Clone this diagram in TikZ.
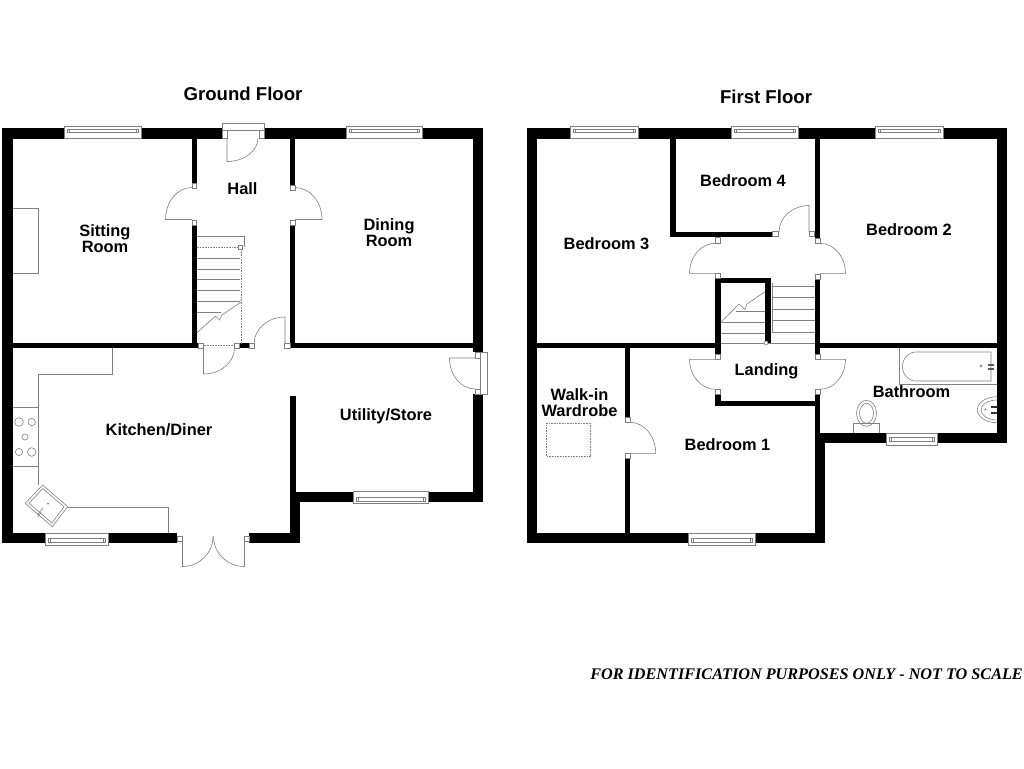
\documentclass[tikz,border=0pt]{standalone}
\usepackage{fontspec}
\setmainfont{Liberation Sans}
\newfontfamily\notefont{Liberation Serif}
\usetikzlibrary{calc}
\tikzset{
	wall/.style={fill=black, draw=none},
	fixline/.style={draw=black!50, line width=0.6pt},
	jamb/.style={draw=black!50, line width=0.6pt, fill=white},
	roomlabel/.style={font=\bfseries\fontsize{16.4}{16}\selectfont, align=center, inner sep=0pt},
	floorlabel/.style={font=\bfseries\fontsize{18.6}{18}\selectfont, inner sep=0pt}
}
% leaf and swing of a door: hinge, start angle, end angle, radii
\def\doorswing(#1)(#2:#3:#4:#5){\draw[fixline] (#1) -- ++(#2:#4 and #5) arc[start angle=#2, end angle=#3, x radius=#4, y radius=#5];}
% window in a wall: left, right, top, bottom, first and second glass line
\def\wallwindow(#1,#2)(#3,#4)(#5,#6){
	\draw[jamb] (#1,#3) rectangle (#2,#4);
	\draw[fixline] ($(#1,#5)+(3,0)$) rectangle ($(#2,#6)+(-3,0)$);
	\draw[fixline] ($(#1,#5)+(5,0)$) -- ($(#1,#6)+(5,0)$);
	\draw[fixline] ($(#2,#5)+(-5,0)$) -- ($(#2,#6)+(-5,0)$);
}
\begin{document}
\begin{tikzpicture}[x=1pt, y=-1pt]
	\useasboundingbox[fill=white] (0, 0) rectangle (1024, 768);
	%%%%% GROUND FLOOR %%%%%
	
	\fill[wall] (2, 128) rectangle (222, 138.5);
	\fill[wall] (264, 128) rectangle (482.7, 138.5);
	\fill[wall] (2, 128) rectangle (12.7, 543.3);
	\fill[wall] (472.7, 128) rectangle (482.7, 352);
	\fill[wall] (472.7, 394) rectangle (482.7, 502);
	
	\fill[wall] (191.7, 138) rectangle (196.7, 183);
	\fill[wall] (191.7, 225) rectangle (196.7, 348.3);
	\fill[wall] (290, 138) rectangle (295, 185);
	\fill[wall] (290, 225) rectangle (295, 348.3);
	
	\fill[wall] (12, 343.3) rectangle (198, 348.3);
	\fill[wall] (239, 343.3) rectangle (249, 348.3);
	\fill[wall] (295, 343.3) rectangle (473, 348.3);
	
	\fill[wall] (289.5, 395.7) rectangle (295.5, 492);
	\fill[wall] (295, 491.7) rectangle (482.7, 502);
	\fill[wall] (290, 491.7) rectangle (300, 543.3);
	\fill[wall] (2, 532.7) rectangle (177, 543.3);
	\fill[wall] (249.3, 532.7) rectangle (300, 543.3);
	
	% door jambs
	\draw[jamb] (192, 183) rectangle (196.7, 188);
	\draw[jamb] (192, 220) rectangle (196.7, 225);
	\draw[jamb] (290, 185) rectangle (295, 190);
	\draw[jamb] (290, 220) rectangle (295, 225);
	\draw[jamb] (198, 343.5) rectangle (203.5, 348.3);
	\draw[jamb] (234, 343.5) rectangle (239.3, 348.3);
	\draw[jamb] (249, 343.5) rectangle (254, 348.3);
	\draw[jamb] (284.5, 343.5) rectangle (290, 348.3);
	\draw[jamb] (475, 352) rectangle (480, 358);
	\draw[jamb] (475, 389) rectangle (480, 394);
	\draw[jamb] (480, 352) rectangle (487, 394);
	\draw[jamb] (177, 536) rectangle (182.5, 541.5);
	\draw[jamb] (244.5, 536) rectangle (249.3, 541.5);
	\draw[jamb] (222, 123.5) rectangle (264, 130.5);
	\draw[jamb] (222, 130.5) rectangle (227, 138);
	\draw[jamb] (259, 130.5) rectangle (264, 138);
	
	% doors
	\doorswing(227, 138)(90:0:31:23.5);
	\doorswing(192, 219.5)(180:270:26.5:32);
	\doorswing(295, 219.5)(0:-90:27:32);
	\doorswing(203.5, 348)(90:0:31:26);
	\doorswing(285, 344)(270:180:31:27);
	\doorswing(475, 358)(180:90:25.5:31);
	\doorswing(182.5, 536.5)(90:0:30.5:30);
	\doorswing(244.5, 536.5)(90:180:31:30);
	
	% windows
	\wallwindow(64, 141)(126, 138.5)(129.5, 132.7);
	\wallwindow(346, 422)(126, 138.5)(129.5, 132.7);
	\wallwindow(45, 108.7)(533, 545.3)(538, 542);
	\wallwindow(353, 428.5)(491.7, 503.5)(497, 501);
	
	% chimney breast and kitchen units
	\draw[fixline] (12.7, 208.3) -- (38.3, 208.3) -- (38.3, 273) -- (12.7, 273);
	\draw[fixline] (112.7, 348.3) -- (112.7, 374) -- (38.3, 374) -- (38.3, 485);
	\draw[fixline] (12.7, 407.3) -- (38.3, 407.3);
	\draw[fixline] (12.7, 466.7) -- (38.3, 466.7);
	\draw[fixline] (19, 422) circle (4.3);
	\draw[fixline] (31.7, 422) circle (3.7);
	\draw[fixline] (25, 437) circle (3);
	\draw[fixline] (19, 452) circle (3.6);
	\draw[fixline] (31.7, 452) circle (4.3);
	\draw[fixline] (67.7, 507) -- (168.3, 507) -- (168.3, 533);
	\draw[jamb] (42.7, 485) -- (67.7, 506.7) -- (52.3, 526.7) -- (25.3, 503.3) -- cycle;
	\draw[fixline] (42.7, 488.5) -- (64, 506.7) -- (52, 523) -- (29, 503.3) -- cycle;
	\draw[fixline] (37, 515) -- (43, 508);
	\draw[fixline] (38, 517) -- (41, 512);
	\fill[black!60] (48, 503.7) circle (0.8);
	
	% stairs
	\draw[fixline] (196.7, 236.7) -- (244.5, 236.7) -- (244.5, 247);
	\draw[jamb] (238.7, 245.5) rectangle (242, 249);
	\draw[fixline, densely dotted] (196.7, 247.5) -- (239, 247.5);
	\draw[fixline, densely dotted] (241, 249) -- (241, 344);
	\draw[fixline, densely dotted] (203.5, 345) -- (234, 345);
	\foreach \ty in {258.3, 269, 279, 290.5, 301}
		\draw[fixline] (196.7, \ty) -- (240, \ty);
	\draw[fixline] (196.7, 312) -- (221, 312);
	\draw[fixline] (241, 302) -- (222, 315) -- (219.5, 320) -- (215.5, 316) -- (196.7, 333);
	
	%%%%% FIRST FLOOR %%%%%
	
	\fill[wall] (526.7, 128) rectangle (1007, 138.5);
	\fill[wall] (526.7, 128) rectangle (536.7, 543.3);
	\fill[wall] (997, 128) rectangle (1007, 443.3);
	\fill[wall] (526.7, 532.7) rectangle (825, 543.3);
	\fill[wall] (815, 433) rectangle (825, 543.3);
	\fill[wall] (815, 433) rectangle (1007, 443.3);
	
	\fill[wall] (536, 343.3) rectangle (716, 348.3);
	\fill[wall] (820, 343.3) rectangle (997, 348.3);
	\fill[wall] (624.8, 348) rectangle (630, 417.5);
	\fill[wall] (624.8, 458.3) rectangle (630, 533);
	
	\fill[wall] (670.3, 138) rectangle (675.7, 236.7);
	\fill[wall] (670.3, 231.7) rectangle (772.7, 236.7);
	\fill[wall] (814.7, 138) rectangle (820, 238.3);
	
	\fill[wall] (715.3, 278.3) rectangle (770.7, 283.3);
	\fill[wall] (715.3, 278.3) rectangle (720.7, 354.3);
	\fill[wall] (765, 278.3) rectangle (770.7, 342.7);
	\fill[wall] (814.7, 279.3) rectangle (820, 354.3);
	\fill[wall] (715.3, 394) rectangle (720.7, 405.7);
	\fill[wall] (715.3, 400.7) rectangle (820, 405.7);
	\fill[wall] (814.7, 394) rectangle (820, 433.5);
	
	% door jambs
	\draw[jamb] (625, 417.5) rectangle (630, 422.5);
	\draw[jamb] (625, 453.5) rectangle (630, 458.3);
	\draw[jamb] (715.5, 237) rectangle (720.5, 243);
	\draw[jamb] (715.5, 273) rectangle (720.5, 278.3);
	\draw[jamb] (772.7, 231.7) rectangle (778, 236.7);
	\draw[jamb] (809, 231.7) rectangle (814.7, 236.7);
	\draw[jamb] (815, 238.3) rectangle (820, 243);
	\draw[jamb] (815, 274) rectangle (820, 279.3);
	\draw[jamb] (715.5, 354.3) rectangle (720.5, 359.3);
	\draw[jamb] (715.5, 389.3) rectangle (720.5, 394);
	\draw[jamb] (815, 354.3) rectangle (820, 359.3);
	\draw[jamb] (815, 389.3) rectangle (820, 394);
	
	% doors
	\doorswing(715.5, 273.3)(180:270:26:30);
	\doorswing(820, 273.3)(0:-90:25.5:30);
	\doorswing(809, 232)(270:180:30:26.5);
	\doorswing(715.5, 359.3)(180:90:26:30);
	\doorswing(820, 359.3)(0:90:25.5:30);
	\doorswing(630, 453.3)(0:-90:25.7:31);
	
	% windows
	\wallwindow(570, 638)(126, 138.5)(129.5, 132.7);
	\wallwindow(731, 798.5)(126, 138.5)(129.5, 132.7);
	\wallwindow(875, 943)(126, 138.5)(129.5, 132.7);
	\wallwindow(688.3, 755.7)(533, 545.3)(538, 542);
	\wallwindow(886.7, 937.7)(433, 445)(437.5, 441);
	
	% stairs
	\foreach \ty in {286, 297.3, 309, 320, 332}
		\draw[fixline] (772, \ty) -- (814.7, \ty);
	\draw[fixline] (772, 283) -- (772, 332);
	\draw[fixline] (720.7, 343.7) -- (814.7, 343.7);
	\draw[fixline] (736, 311.7) -- (765, 311.7);
	\draw[fixline] (721, 322.3) -- (765, 322.3);
	\draw[fixline] (721, 333.3) -- (765, 333.3);
	\draw[fixline] (765, 291.7) -- (747, 304) -- (745, 309.5) -- (739, 304) -- (721, 322.3);
	\draw[jamb] (766, 343) circle (2);
	
	% loft hatch
	\draw[fixline, densely dotted] (546.7, 423.3) rectangle (590.7, 456.7);
	
	% bath, toilet, basin
	\draw[fixline] (899.3, 348.3) -- (899.3, 384.3) -- (997, 384.3);
	\draw[fixline] (991, 352) -- (916, 352) arc[start angle=270, end angle=90, x radius=13.5, y radius=14.5] -- (991, 381) -- cycle;
	\draw[jamb] (981, 366) circle (1.2);
	\fill[black!65] (987.5, 363.5) rectangle (993.5, 365.5);
	\fill[black!65] (987.5, 368) rectangle (993.5, 370);
	\draw[fixline] (853.3, 433) -- (853.3, 423.3) -- (879.7, 423.3) -- (879.7, 433);
	\draw[fixline] (866.5, 413.3) ellipse (10 and 13);
	\draw[fixline] (866.5, 413.3) ellipse (7 and 10);
	\draw[fixline] (997, 396.7) arc[start angle=270, end angle=90, x radius=19.7, y radius=13];
	\draw[fixline] (997, 400) arc[start angle=270, end angle=90, x radius=16, y radius=10];
	\fill[black!65] (985.5, 409.5) circle (0.9);
	\fill[black!80] (991, 405.5) rectangle (997, 407.5);
	\fill[black!80] (991, 412) rectangle (997, 414);
	
	%%%%% LABELS %%%%%
	
	\node[floorlabel] (groundfloor) at (243, 94) {Ground Floor};
	\node[floorlabel] (firstfloor) at (766, 96.5) {First Floor};
	
	\node[roomlabel] (sitting) at (105, 239) {Sitting\\Room};
	\node[roomlabel] (hall) at (242.5, 189) {Hall};
	\node[roomlabel] (dining) at (389, 233) {Dining\\Room};
	\node[roomlabel] (kitchen) at (159, 430) {Kitchen/Diner};
	\node[roomlabel] (utility) at (386, 416) {Utility/Store};
	
	\node[roomlabel] (bedthree) at (606.5, 244) {Bedroom 3};
	\node[roomlabel] (bedfour) at (743, 181) {Bedroom 4};
	\node[roomlabel] (bedtwo) at (909, 230) {Bedroom 2};
	\node[roomlabel] (landing) at (766.5, 371) {Landing};
	\node[roomlabel] (bathroom) at (911.5, 392) {Bathroom};
	\node[roomlabel] (wardrobe) at (579.5, 403) {Walk-in\\Wardrobe};
	\node[roomlabel] (bedone) at (727.5, 444.5) {Bedroom 1};
	
	\node[inner sep=0pt, anchor=east, font=\notefont\bfseries\itshape\fontsize{16.2}{16}\selectfont] (disclaimer) at (1023, 674) {FOR IDENTIFICATION PURPOSES ONLY - NOT TO SCALE};
	
	%%%%% END %%%%%
\end{tikzpicture}
\end{document}
